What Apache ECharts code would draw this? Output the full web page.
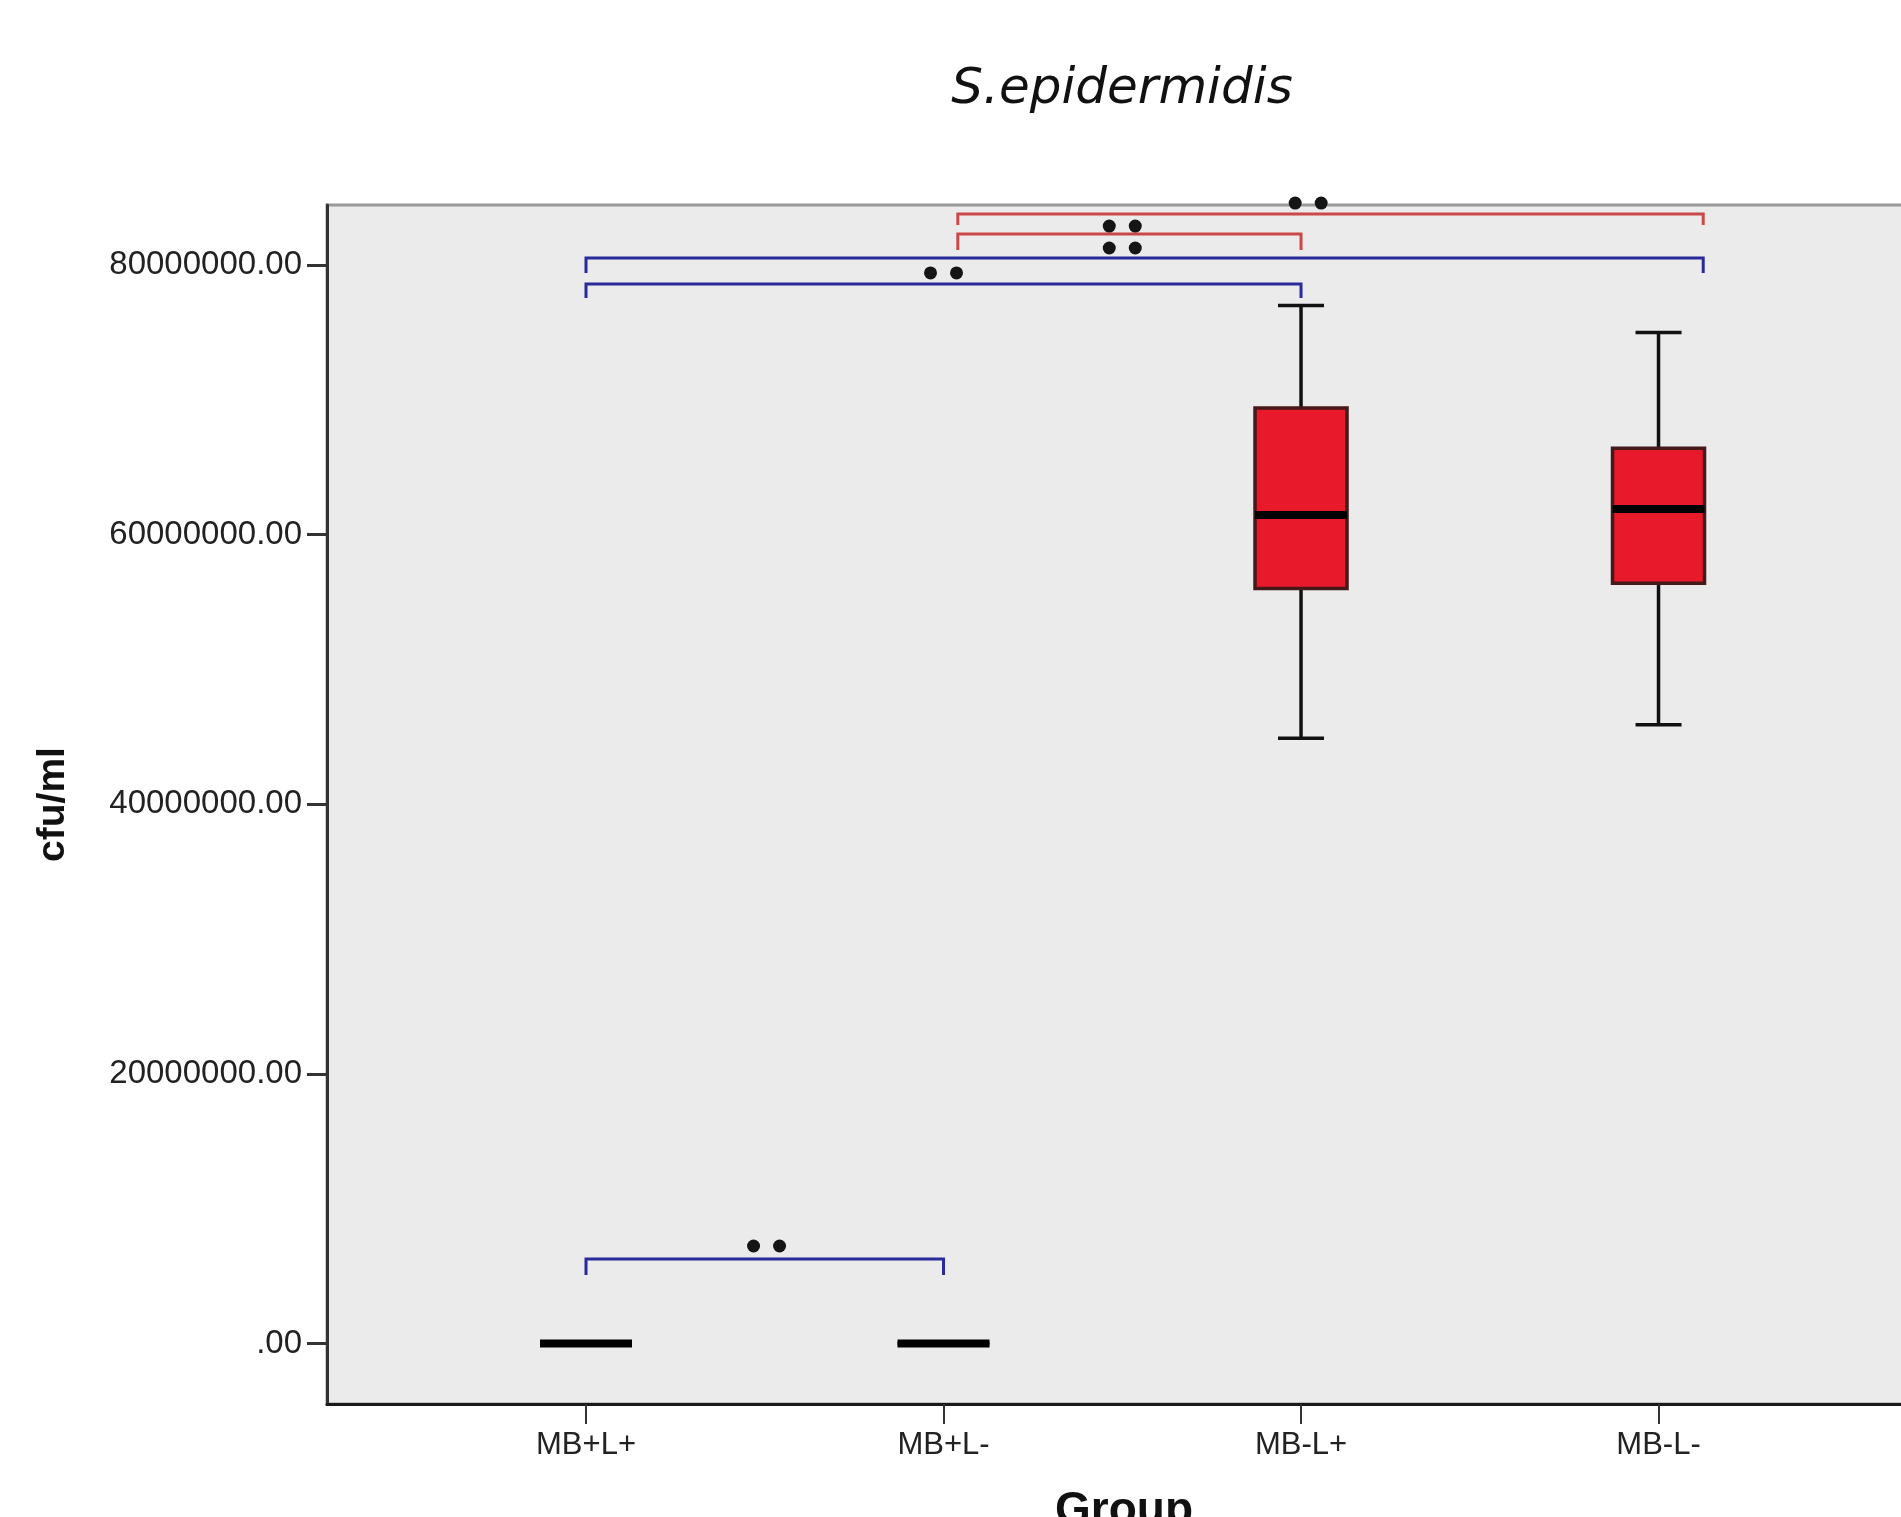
<!DOCTYPE html>
<html>
<head>
<meta charset="utf-8">
<script src="https://cdn.jsdelivr.net/npm/echarts@6/dist/echarts.min.js"></script>
<style>
html,body{margin:0;padding:0;background:#fff;overflow:hidden;}
#main{width:1901px;height:1517px;}
</style>
</head>
<body>
<div id="main"></div>
<script>
// ---- data ----
const categories = ['MB+L+', 'MB+L-', 'MB-L+', 'MB-L-'];
const lows    = [0, 0, 44900000, 45900000];
const q1s     = [0, 0, 56000000, 56400000];
const medians = [0, 0, 61450000, 61900000];
const q3s     = [0, 0, 69400000, 66400000];
const highs   = [0, 0, 77000000, 75000000];
const yTicks  = [0, 20000000, 40000000, 60000000, 80000000];

// significance brackets: [from index, to index, line value, leg end value, group]
const bracketFrom  = [0, 0, 1.04, 1.04, 0];
const bracketTo    = [2.0, 3.125, 2.0, 3.125, 1];
const bracketLine  = [78590000, 80520000, 82300000, 83780000, 6270000];
const bracketLeg   = [77550000, 79410000, 81110000, 82960000, 5080000];
const starX        = [1.0, 1.5, 1.5, 2.02, 0.505];
const starY        = [79410000, 81260000, 82890000, 84590000, 7230000];
const bracketKind  = ['blue', 'blue', 'red', 'red', 'blue'];

const boxData = categories.map((c, i) => [i + 1, lows[i], q1s[i], medians[i], q3s[i], highs[i]]);
const bracketData = bracketFrom.map((f, i) => [f + 1, bracketTo[i] + 1, bracketLine[i], bracketLeg[i], starX[i] + 1, starY[i], i]);

const chart = echarts.init(document.getElementById('main'));

function renderBox(params, api) {
  const x = api.value(0);
  const pLow = api.coord([x, api.value(1)]);
  const pQ1 = api.coord([x, api.value(2)]);
  const pMed = api.coord([x, api.value(3)]);
  const pQ3 = api.coord([x, api.value(4)]);
  const pHigh = api.coord([x, api.value(5)]);
  const bw = 92, cw = 46;
  const cx = pMed[0];
  const children = [];
  const wl = {stroke: '#111', lineWidth: 3.5};
  children.push({type: 'line', shape: {x1: cx, y1: pHigh[1], x2: cx, y2: pQ3[1]}, style: wl});
  children.push({type: 'line', shape: {x1: cx, y1: pQ1[1], x2: cx, y2: pLow[1]}, style: wl});
  children.push({type: 'line', shape: {x1: cx - cw / 2, y1: pHigh[1], x2: cx + cw / 2, y2: pHigh[1]}, style: wl});
  children.push({type: 'line', shape: {x1: cx - cw / 2, y1: pLow[1], x2: cx + cw / 2, y2: pLow[1]}, style: wl});
  children.push({type: 'rect', shape: {x: cx - bw / 2, y: pQ3[1], width: bw, height: pQ1[1] - pQ3[1]},
    style: {fill: '#e8192b', stroke: '#45181a', lineWidth: 3.5}});
  children.push({type: 'line', shape: {x1: cx - bw / 2, y1: pMed[1], x2: cx + bw / 2, y2: pMed[1]},
    style: {stroke: '#000', lineWidth: 8}});
  return {type: 'group', children: children};
}

function renderBracket(params, api) {
  const idx = api.value(6);
  const color = bracketKind[idx] === 'blue' ? '#2a2a9a' : '#cc4848';
  const a = api.coord([api.value(0), api.value(2)]);
  const b = api.coord([api.value(1), api.value(2)]);
  const aLeg = api.coord([api.value(0), api.value(3)]);
  const s = api.coord([api.value(4), api.value(5)]);
  const st = {stroke: color, lineWidth: 3, fill: null};
  return {
    type: 'group',
    children: [
      {type: 'polyline', shape: {points: [[a[0], aLeg[1]], [a[0], a[1]], [b[0], b[1]], [b[0], aLeg[1]]]}, style: st},
      {type: 'circle', shape: {cx: s[0] - 13, cy: s[1], r: 6.5}, style: {fill: '#151515'}},
      {type: 'circle', shape: {cx: s[0] + 13, cy: s[1], r: 6.5}, style: {fill: '#151515'}}
    ]
  };
}

chart.setOption({
  animation: false,
  backgroundColor: '#ffffff',
  title: {
    text: 'S.epidermidis',
    left: 1117, top: 60, textAlign: 'center',
    textStyle: {fontFamily: 'DejaVu Sans', fontStyle: 'italic', fontWeight: 200, fontSize: 50, color: '#111'}
  },
  grid: {
    left: 327, top: 205, right: -20, bottom: 113,
    outerBoundsMode: 'none', containLabel: false,
    show: true, backgroundColor: '#ebebeb', borderColor: '#9a9a9a', borderWidth: 3
  },
  xAxis: {
    type: 'value',
    min: 0.2755, max: 4.7342,
    name: 'Group', nameLocation: 'middle', nameGap: 84,
    nameTextStyle: {fontFamily: 'Liberation Sans', fontWeight: 'bold', fontSize: 46, color: '#111', align: 'center'},
    splitLine: {show: false},
    axisLine: {show: true, onZero: false, lineStyle: {color: '#1a1a1a', width: 3}},
    axisTick: {show: true, length: 20, lineStyle: {color: '#333', width: 2}, customValues: [1, 2, 3, 4]},
    axisLabel: {
      customValues: [1, 2, 3, 4], margin: 26,
      fontFamily: 'Liberation Sans', fontSize: 31, color: '#222',
      formatter: v => categories[Math.round(v) - 1] || ''
    }
  },
  yAxis: {
    type: 'value',
    min: -4490000, max: 84450000,
    name: 'cfu/ml', nameLocation: 'middle', nameGap: 254, nameRotate: 90,
    nameTextStyle: {fontFamily: 'Liberation Sans', fontWeight: 'bold', fontSize: 39, color: '#111'},
    splitLine: {show: false},
    axisLine: {show: true, onZero: false, lineStyle: {color: '#333', width: 3}},
    axisTick: {show: true, length: 20, lineStyle: {color: '#333', width: 3}, customValues: yTicks},
    axisLabel: {
      customValues: yTicks, margin: 25,
      fontFamily: 'Liberation Sans', fontSize: 33, color: '#222',
      formatter: v => v === 0 ? '.00' : v.toFixed(2)
    }
  },
  series: [
    {
      type: 'custom', name: 'box', clip: false,
      renderItem: renderBox,
      data: boxData,
      encode: {x: 0, y: [1, 2, 3, 4, 5]}
    },
    {
      type: 'custom', name: 'brackets', clip: false, z: 5,
      renderItem: renderBracket,
      data: bracketData,
      encode: {x: [0, 1, 4], y: [2, 3, 5]}
    }
  ]
});
</script>
</body>
</html>
